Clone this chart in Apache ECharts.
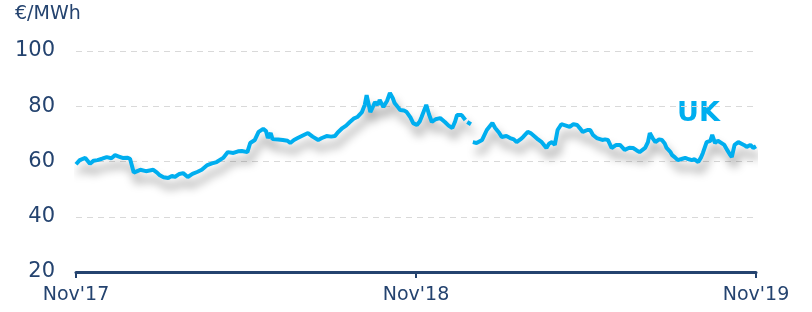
<!DOCTYPE html>
<html>
<head>
<meta charset="utf-8">
<script src="https://cdn.jsdelivr.net/npm/echarts@6/dist/echarts.min.js"></script>
<style>
  html, body { margin: 0; padding: 0; background: #fff; }
  #chart { width: 812px; height: 312px; }
</style>
</head>
<body>
<div id="chart"></div>
<script>
// days since 1 Nov 2017, and UK power price (EUR/MWh); null = gap in the series
const days = [
  0, 4, 10, 15, 19, 23, 28, 33, 38, 42, 46, 50, 55, 58, 60, 62, 69, 75, 83, 87,
  90, 94, 99, 103, 106, 111, 115, 120, 125, 130, 135, 141, 146, 151, 158, 163, 169, 174, 178, 184,
  187, 192, 196, 201, 204, 206, 209, 211, 217, 222, 227, 230, 234, 238, 244, 249, 254, 260, 264, 269,
  274, 278, 281, 286, 290, 294, 298, 302, 307, 310, 312, 316, 319, 321, 324, 326, 330, 334, 337, 340,
  342, 346, 348, 352, 355, 359, 362, 366, 369, 371, 376, 379, 382, 386, 391, 396, 400, 404, 407, 409,
  414, 418, 419, 420, 424, 425, 426, 430, 436, 441, 447, 450, 454, 457, 462, 466, 470, 473, 477, 480,
  485, 488, 493, 496, 500, 505, 508, 511, 514, 517, 521, 523, 526, 530, 534, 538, 541, 544, 549, 552,
  555, 559, 565, 568, 571, 575, 580, 584, 589, 594, 598, 602, 605, 611, 614, 616, 619, 622, 626, 629,
  632, 634, 638, 640, 643, 646, 651, 654, 658, 661, 664, 668, 671, 673, 677, 681, 683, 686, 689, 691,
  696, 699, 702, 704, 707, 711, 713, 717, 720, 724, 727, 730
];
const ukPrice = [
  59, 60.5, 61.3, 59.2, 60.3, 60.5, 61, 61.6, 61.2, 62.3, 61.8, 61.3, 61.4, 61, 60.8, 56, 57, 56.5, 57, 56,
  55, 54.3, 54, 54.8, 54.4, 55.5, 55.8, 54.4, 55.5, 56.2, 57, 58.7, 59.3, 59.8, 61.3, 63.4, 63.1, 63.7, 63.8, 63.4,
  66.7, 67.8, 70.7, 71.8, 71, 68.5, 70.3, 68.1, 68, 67.8, 67.5, 66.7, 67.8, 68.5, 69.5, 70.3, 69, 67.8, 68.5, 69.2,
  69, 69.2, 70.5, 72.1, 73, 74.3, 75.5, 76.1, 77.9, 80.5, 84, 77.9, 80, 81.5, 80.5, 82.3, 79.7, 82, 84.8, 83,
  81.2, 79.5, 78.6, 78.5, 77.9, 76, 73.9, 73.2, 74.5, 76.1, 80.5, 77, 74.3, 75.3, 75.7, 74.3, 73, 72.1, 74.5, 76.8,
  76.8, 75, null, 74.3, 73.5, null, 67, 66.7, 67.8, 71.4, 73.9, 72.1, 70.5, 68.9, 69.2, 68.5, 68, 67, 68, 68.9,
  70.7, 70.3, 68.9, 68, 67, 64.9, 66.5, 67, 66, 71.4, 73.5, 73.9, 73, 72.5, 73.5, 73.2, 72, 70.7, 71.4, 71.4,
  69.6, 68.5, 67.8, 68, 67.8, 64.9, 66, 66, 64.2, 65, 64.9, 64, 63.4, 64.9, 67, 70.3, 68.5, 67, 68, 67.8,
  66.5, 64.9, 63.5, 62.3, 61.5, 60.5, 61, 61.3, 60.8, 60.5, 60.8, 59.8, 61.5, 63.1, 67, 67.5, 69.6, 66.7, 67.5, 67,
  66, 64.2, 62.5, 61.6, 66, 67, 67, 66, 65.3, 66, 64.9, 65.5
];
const tickDays = [0, 365, 730];
const tickLabels = ["Nov'17", "Nov'18", "Nov'19"];

const navy = '#24436f';
const blue = '#00aeef';

const chart = echarts.init(document.getElementById('chart'));

const seriesData = days.map((d, i) => [d, ukPrice[i] == null ? '-' : ukPrice[i]]);

chart.setOption({
  animation: false,
  grid: { left: 76, right: 56, top: 51, bottom: 40 },
  xAxis: {
    type: 'value',
    min: 0,
    max: 730,
    interval: 365,
    axisLine: { show: true, lineStyle: { color: navy, width: 3 } },
    axisTick: { show: true, length: 6, lineStyle: { color: navy, width: 2 } },
    axisLabel: {
      color: navy,
      fontFamily: 'DejaVu Sans',
      fontSize: 19,
      margin: 14,
      formatter: v => tickLabels[tickDays.indexOf(v)] || ''
    },
    splitLine: { show: false }
  },
  yAxis: {
    type: 'value',
    min: 20,
    max: 100,
    interval: 20,
    axisLine: { show: false },
    axisTick: { show: false },
    axisLabel: { color: navy, fontFamily: 'DejaVu Sans', fontSize: 21, margin: 21 },
    splitLine: {
      show: true,
      showMinLine: false,
      lineStyle: { color: '#d9d9d9', type: [6, 5], width: 1 }
    }
  },
  graphic: [
    {
      type: 'text',
      left: 15,
      top: 5,
      style: { text: '€/MWh', fill: navy, font: '19px "DejaVu Sans"' }
    },
    {
      type: 'text',
      left: 677,
      top: 100,
      style: { text: 'UK', fill: blue, font: 'bold 27px "DejaVu Sans"' }
    }
  ],
  series: [
    {
      type: 'line',
      data: seriesData,
      showSymbol: false,
      connectNulls: false,
      lineStyle: {
        color: blue,
        width: 4,
        shadowColor: 'rgba(0, 0, 0, 0.4)',
        shadowBlur: 10,
        shadowOffsetX: 3,
        shadowOffsetY: 9
      }
    }
  ]
});
</script>
</body>
</html>
